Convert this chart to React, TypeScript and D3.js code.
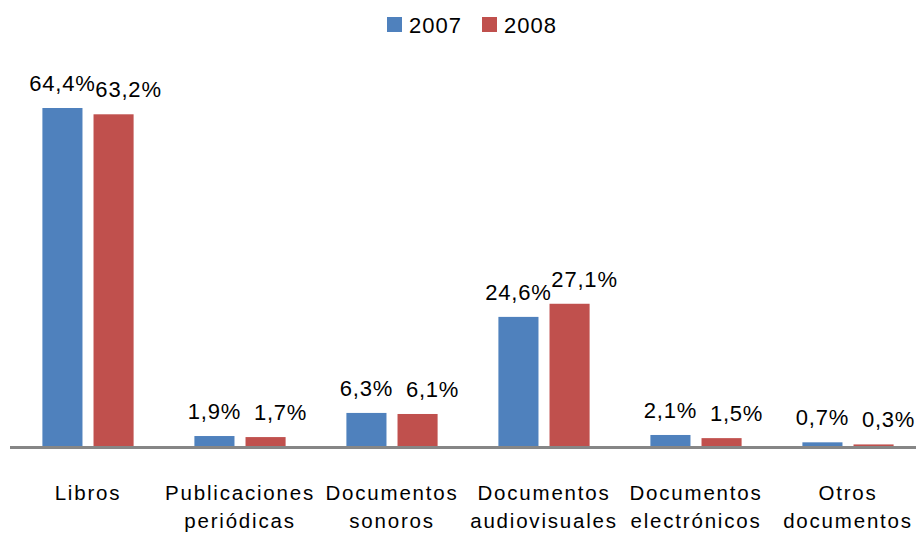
import * as d3 from "d3"
import { useEffect, useRef } from "react"

const categories = [
  ["Libros"],
  ["Publicaciones", "periódicas"],
  ["Documentos", "sonoros"],
  ["Documentos", "audiovisuales"],
  ["Documentos", "electrónicos"],
  ["Otros", "documentos"],
]
const series = ["2007", "2008"]
const colors = ["#4F81BD", "#C0504D"]
const values2007 = [64.4, 1.9, 6.3, 24.6, 2.1, 0.7]
const values2008 = [63.2, 1.7, 6.1, 27.1, 1.5, 0.3]

const WIDTH = 916
const HEIGHT = 534
const FONT = "'Liberation Sans', Arial, sans-serif"

const App = () => {
  const svgRef = useRef<SVGSVGElement>(null)

  useEffect(() => {
    if (!svgRef.current) return
    d3.select(svgRef.current).selectAll("*").remove()

    const svg = d3
      .select(svgRef.current)
      .attr("width", WIDTH)
      .attr("height", HEIGHT)
      .style("font-family", FONT)

    const idx = categories.map((_, i) => i)
    const x0 = d3
      .scaleBand<number>()
      .domain(idx)
      .range([12, 924])
      .paddingInner(0.4)
      .paddingOuter(0.2)
    const x1 = d3
      .scaleBand<string>()
      .domain(series)
      .range([0, x0.bandwidth()])
      .paddingInner(0.216)
    const y = d3.scaleLinear().domain([0, 64.4]).range([446, 108])

    const data = idx.flatMap((i) => [
      { cat: i, s: "2007", v: values2007[i], c: colors[0] },
      { cat: i, s: "2008", v: values2008[i], c: colors[1] },
    ])

    // bars
    svg
      .append("g")
      .selectAll("rect")
      .data(data)
      .join("rect")
      .attr("x", (d) => x0(d.cat)! + x1(d.s)!)
      .attr("y", (d) => y(d.v))
      .attr("width", x1.bandwidth())
      .attr("height", (d) => y(0) - y(d.v))
      .attr("fill", (d) => d.c)

    // value labels (second series labels sit a bit to the right, as in the original)
    svg
      .append("g")
      .selectAll("text")
      .data(data)
      .join("text")
      .attr(
        "x",
        (d) =>
          x0(d.cat)! + x1(d.s)! + x1.bandwidth() / 2 + (d.s === "2008" ? 15 : 0),
      )
      .attr("y", (d) => y(d.v) - 17)
      .attr("text-anchor", "middle")
      .attr("font-size", "22px")
      .attr("letter-spacing", "0.8px")
      .attr("fill", "#000")
      .text((d) => d.v.toFixed(1).replace(".", ",") + "%")

    // axis line
    svg
      .append("line")
      .attr("x1", 10)
      .attr("x2", WIDTH)
      .attr("y1", y(0) + 1.5)
      .attr("y2", y(0) + 1.5)
      .attr("stroke", "#868686")
      .attr("stroke-width", 3)

    // category labels
    const cat = svg
      .append("g")
      .selectAll("text")
      .data(categories)
      .join("text")
      .attr("text-anchor", "middle")
      .attr("font-size", "20.5px")
      .attr("letter-spacing", "1.8px")
      .attr("fill", "#000")
    cat
      .selectAll("tspan")
      .data((d, i) => d.map((t) => ({ t, i })))
      .join("tspan")
      .attr("x", (d) => x0(d.i)! + x0.bandwidth() / 2)
      .attr("y", (_, j) => 500 + j * 28)
      .text((d) => d.t)

    // legend
    const legend = svg
      .append("g")
      .selectAll("g")
      .data(series)
      .join("g")
      .attr("transform", (_, i) => `translate(${387 + i * 95}, 17)`)
    legend
      .append("rect")
      .attr("width", 15)
      .attr("height", 15)
      .attr("fill", (_, i) => colors[i])
    legend
      .append("text")
      .attr("x", 22)
      .attr("y", 16)
      .attr("font-size", "22px")
      .attr("letter-spacing", "1px")
      .attr("fill", "#000")
      .text((d) => d)
  }, [])

  return (
    <div style={{ position: "absolute", left: 0, top: 0 }}>
      <svg ref={svgRef} style={{ display: "block", background: "#fff" }} />
    </div>
  )
}

export default App
